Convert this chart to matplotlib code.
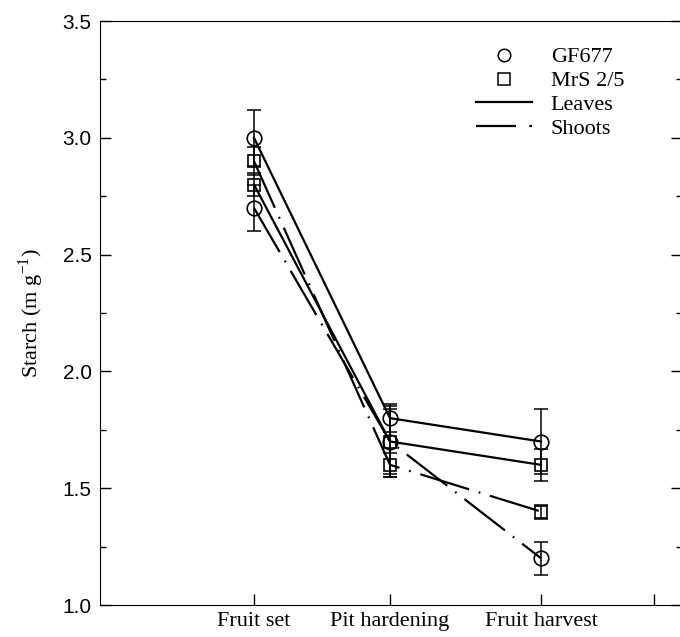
import matplotlib.pyplot as plt
from matplotlib.lines import Line2D

stages = ['Fruit set', 'Pit hardening', 'Fruit harvest']
stage_pos = [0, 136, 287]
extra_tick = 400

gf_leaves = [3.0, 1.8, 1.7]
gf_leaves_err = [0.12, 0.06, 0.14]
mrs_leaves = [2.8, 1.7, 1.6]
mrs_leaves_err = [0.05, 0.15, 0.07]
mrs_shoots = [2.9, 1.6, 1.4]
mrs_shoots_err = [0.06, 0.05, 0.03]
gf_shoots = [2.7, 1.7, 1.2]
gf_shoots_err = [0.10, 0.14, 0.07]

serif = 'Liberation Serif'
sans = 'Liberation Sans'
dash = (0, (23, 4.5, 0.8, 4.5))

fig = plt.figure(figsize=(6.8, 6.37), dpi=100, facecolor='white')
ax = fig.add_axes([0.147, 0.0502, 0.856, 0.9168])

series = [
    (gf_leaves, gf_leaves_err, 'o', '-'),
    (mrs_leaves, mrs_leaves_err, 's', '-'),
    (mrs_shoots, mrs_shoots_err, 's', dash),
    (gf_shoots, gf_shoots_err, 'o', dash),
]
for vals, err, mk, ls in series:
    ax.errorbar(stage_pos, vals, yerr=err, fmt='none', ecolor='black',
                elinewidth=1.1, capsize=5, capthick=1.1)
    ax.plot(stage_pos, vals, color='black', lw=1.6, linestyle=ls)
    ax.plot(stage_pos, vals, linestyle='none', marker=mk, ms=10.5 if mk == 'o' else 9,
            mfc='none', mec='black', mew=1.2)

ax.set_xlim(-154, 428)
ax.set_ylim(1.0, 3.5)
ax.set_xticks(stage_pos + [extra_tick])
ax.set_xticklabels(stages + [''], fontfamily=serif, fontsize=16)
ax.set_yticks([1.0, 1.5, 2.0, 2.5, 3.0, 3.5])
ax.set_yticks([1.25, 1.75, 2.25, 2.75, 3.25], minor=True)
ax.tick_params(axis='both', which='major', direction='in', length=8, width=1,
               right=True)
ax.tick_params(axis='y', which='major', labelsize=15, pad=6)
ax.tick_params(axis='y', which='minor', direction='in', length=4, width=1, right=True)
ax.tick_params(axis='x', pad=5)
for lab in ax.get_yticklabels():
    lab.set_fontfamily(sans)
ax.set_ylabel('Starch (m g$^{\\mathregular{-1}}$)', fontfamily=serif, fontsize=16,
              labelpad=12)

handles = [
    Line2D([], [], linestyle='none', marker='o', ms=9, mfc='none', mec='black', mew=1.1),
    Line2D([], [], linestyle='none', marker='s', ms=8, mfc='none', mec='black', mew=1.1),
    Line2D([], [], color='black', lw=1.6, linestyle='-'),
    Line2D([], [], color='black', lw=1.6, linestyle=(0, (18, 6, 1.5, 8))),
]
ax.legend(handles, ['GF677', 'MrS 2/5', 'Leaves', 'Shoots'], loc='upper right',
          bbox_to_anchor=(0.935, 0.99), frameon=False, prop={'family': serif, 'size': 16},
          handlelength=2.5, labelspacing=0.15, handletextpad=0.85)

fig.savefig('out.png', dpi=100)
